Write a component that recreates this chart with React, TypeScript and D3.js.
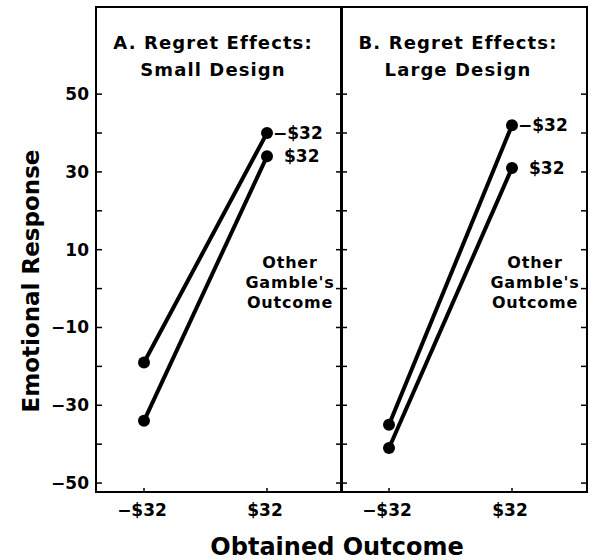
import * as d3 from 'd3';

// obtained outcome (x) and other gamble's outcome (series)
const obtained = ['−$32', '$32'];
const seriesLabels = ['−$32', '$32'];
const titlesA = ['A. Regret Effects:', 'Small Design'];
const titlesB = ['B. Regret Effects:', 'Large Design'];
const noteLines = ['Other', "Gamble's", 'Outcome'];

// panel A: small design
const smallNegOther = [-19, 40];
const smallPosOther = [-34, 34];
// panel B: large design
const largeNegOther = [-35, 42];
const largePosOther = [-41, 31];

const yLabelTicks = [-50, -30, -10, 10, 30, 50];
const yAllTicks = [-50, -40, -30, -20, -10, 0, 10, 20, 30, 40, 50];

const W = 590;
const H = 560;
const top = 7;
const bottom = 492;
const panelLefts = [96, 341];
const panelW = 246;
const font = 'DejaVu Sans, sans-serif';

const y = d3.scaleLinear().domain([-52.3, 72.4]).range([bottom, top]);
const x = d3.scalePoint<string>().domain(obtained).range([48, 171]);

type PanelProps = { left: number; titles: string[]; series: number[][] };

function Panel({ left, titles, series }: PanelProps) {
  const line = d3
    .line<number>()
    .x((_, i) => x(obtained[i])!)
    .y((d) => y(d));
  return (
    <g transform={`translate(${left},0)`}>
      <rect x={0} y={top} width={panelW} height={bottom - top} fill="none" stroke="#000" strokeWidth={2} />
      {yAllTicks.map((t) => (
        <g key={t}>
          <line x1={0} x2={6} y1={y(t)} y2={y(t)} stroke="#000" strokeWidth={1.5} />
          <line x1={panelW - 6} x2={panelW} y1={y(t)} y2={y(t)} stroke="#000" strokeWidth={1.5} />
        </g>
      ))}
      {obtained.map((o) => (
        <g key={o}>
          <line x1={x(o)} x2={x(o)} y1={bottom} y2={bottom - 4} stroke="#000" strokeWidth={1.5} />
          <text x={x(o)! - 2} y={bottom + 24} textAnchor="middle" fontFamily={font} fontWeight="bold" fontSize={17}>
            {o}
          </text>
        </g>
      ))}
      {titles.map((t, i) => (
        <text
          key={t}
          x={117}
          y={49 + i * 27}
          textAnchor="middle"
          fontFamily={font}
          fontWeight="bold"
          fontSize={18}
          letterSpacing={1.1}
        >
          {t}
        </text>
      ))}
      {series.map((s, i) => (
        <g key={i}>
          <path d={line(s)!} fill="none" stroke="#000" strokeWidth={4} />
          {s.map((v, j) => (
            <circle key={j} cx={x(obtained[j])} cy={y(v)} r={6} fill="#000" />
          ))}
          <text
            x={x(obtained[1])! + (i === 0 ? 6 : 17)}
            y={y(s[1]) + 6}
            fontFamily={font}
            fontWeight="bold"
            fontSize={17}
          >
            {seriesLabels[i]}
          </text>
        </g>
      ))}
      {noteLines.map((t, i) => (
        <text
          key={t}
          x={194}
          y={268 + i * 20}
          textAnchor="middle"
          fontFamily={font}
          fontWeight="bold"
          fontSize={16}
          letterSpacing={0.8}
        >
          {t}
        </text>
      ))}
    </g>
  );
}

export default function App() {
  return (
    <svg width={W} height={H} style={{ position: 'absolute', left: 0, top: 0, background: '#fff' }}>
      {yLabelTicks.map((t) => (
        <text key={t} x={89} y={y(t) + 6} textAnchor="end" fontFamily={font} fontWeight="bold" fontSize={17}>
          {t < 0 ? `−${-t}` : t}
        </text>
      ))}
      <Panel left={panelLefts[0]} titles={titlesA} series={[smallNegOther, smallPosOther]} />
      <Panel left={panelLefts[1]} titles={titlesB} series={[largeNegOther, largePosOther]} />
      <text
        transform="translate(39,281) rotate(-90)"
        textAnchor="middle"
        fontFamily={font}
        fontWeight="bold"
        fontSize={23}
      >
        Emotional Response
      </text>
      <text x={337} y={555} textAnchor="middle" fontFamily={font} fontWeight="bold" fontSize={24}>
        Obtained Outcome
      </text>
    </svg>
  );
}
